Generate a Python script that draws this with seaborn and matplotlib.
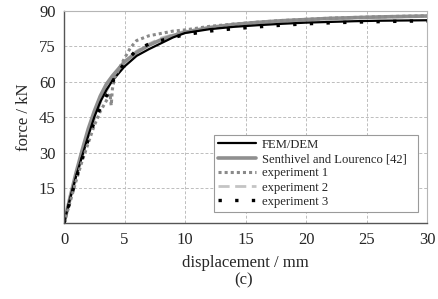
import matplotlib
matplotlib.use("Agg")
import matplotlib.pyplot as plt
import seaborn as sns
import pandas as pd

# ---- data ----
fem_x = [0, 0.5, 1, 1.5, 2, 2.5, 3, 3.5, 4, 5, 6, 7, 8, 9, 10, 12, 14, 16, 18, 20, 22, 24, 26, 28, 30]
fem_y = [0, 10.5, 20, 28.5, 37, 45, 51.5, 56.5, 60.5, 66.5, 71, 73.8, 76.3, 78.8, 80.7, 82.3, 83.3, 84, 84.6, 85.1, 85.4, 85.7, 85.9, 86, 86.1]

sen_x = [0, 0.5, 1, 1.5, 2, 2.5, 3, 3.5, 4, 5, 6, 7, 8, 9, 10, 12, 14, 16, 18, 20, 22, 24, 26, 28, 30]
sen_y = [0, 11, 21.5, 31, 40, 47.5, 54, 59, 62.5, 68.5, 72.5, 75.5, 77.8, 79.6, 81, 83, 84.3, 85.2, 85.9, 86.4, 86.9, 87.2, 87.5, 87.7, 87.9]

ex1_x = [0, 0.5, 1, 1.5, 2, 2.5, 3, 3.5, 3.8, 3.9, 4.0, 4.2, 5, 5.5, 6, 7, 8, 9, 10, 12, 14, 16, 18, 20, 22, 24, 26, 28, 30]
ex1_y = [0, 9, 18, 26.5, 34, 41.5, 47.5, 52, 55, 50, 57, 62, 70, 74.5, 77.5, 79.5, 80.5, 81.5, 82, 83.5, 84.5, 85.3, 86, 86.5, 87, 87.3, 87.6, 87.8, 88]

ex2_x = [0, 1, 2, 3, 4, 5, 6, 7, 8, 10, 15, 20, 25, 30]
ex2_y = [0, 19, 37, 51, 61, 68, 73, 76, 78.5, 81.5, 84.5, 86.3, 87.2, 87.8]

ex3_x = [0, 0.5, 1, 1.5, 2, 2.5, 3, 3.5, 3.9, 4.1, 5, 6, 7, 8, 10, 12, 14, 16, 18, 20, 22, 24, 26, 28, 30]
ex3_y = [0, 9.5, 19, 27.5, 35.5, 43, 49, 54, 57, 61, 68, 73.5, 76, 77.5, 80, 81.5, 82.5, 83.3, 84, 84.6, 85, 85.3, 85.5, 85.7, 85.8]

labels = ["FEM/DEM", "Senthivel and Lourenco [42]", "experiment 1", "experiment 2", "experiment 3"]
x_ticks = [0, 5, 10, 15, 20, 25, 30]
y_ticks = [15, 30, 45, 60, 75, 90]

sns.set_theme(style="white")
plt.rcParams['font.family'] = ['Liberation Serif', 'DejaVu Serif']

fig = plt.figure(figsize=(4.39, 2.99), dpi=100)
ax = fig.add_axes([0.1458, 0.253, 0.827, 0.71])

series = [
    (fem_x, fem_y, dict(color="black", lw=1.6, ls="-")),
    (sen_x, sen_y, dict(color="#8f8f8f", lw=2.6, ls="-")),
    (ex1_x, ex1_y, dict(color="#8a8a8a", lw=2.2, ls=(0, (1, 1)))),
    (ex2_x, ex2_y, dict(color="#c4c4c4", lw=2.0, ls=(0, (4, 2)))),
    (ex3_x, ex3_y, dict(color="black", lw=2.4, ls=(0, (1, 4)))),
]
order = [3, 1, 0, 2, 4]
for i in order:
    xs, ys, st = series[i]
    df = pd.DataFrame({"d": xs, "f": ys})
    sns.lineplot(data=df, x="d", y="f", ax=ax, sort=False, estimator=None,
                 color=st["color"], linewidth=st["lw"], linestyle=st["ls"],
                 label=labels[i])

ax.set_xlim(0, 30)
ax.set_ylim(0, 90)
ax.set_xticks(x_ticks)
ax.set_yticks(y_ticks)
ax.grid(True, color="#bdbdbd", linestyle=(0, (3, 2)), linewidth=0.7)
ax.tick_params(axis="both", direction="inout", length=4, width=0.8, color="#555555",
               labelsize=12, pad=4)
for s in ["left", "bottom"]:
    ax.spines[s].set_color("#555555")
    ax.spines[s].set_linewidth(1.0)
for s in ["top", "right"]:
    ax.spines[s].set_color("#b5b5b5")
    ax.spines[s].set_linewidth(0.8)
ax.set_xlabel("displacement / mm", fontsize=12, labelpad=5)
ax.set_ylabel("force / kN", fontsize=12, labelpad=5)

h, l = ax.get_legend_handles_labels()
hd = dict(zip(l, h))
leg = ax.legend([hd[k] for k in labels], labels, loc="lower left",
                bbox_to_anchor=(0.413, 0.055, 0.562, 0.361), mode="expand",
                fontsize=9.1, frameon=True, fancybox=False, framealpha=1,
                edgecolor="#9a9a9a", handlelength=3.0, borderpad=0.3,
                labelspacing=0.18, handletextpad=0.5, borderaxespad=0)
leg.get_frame().set_linewidth(0.8)

fig.text(0.554, 0.062, "(c)", ha="center", va="center", fontsize=12)

fig.savefig("out.png", dpi=100)
